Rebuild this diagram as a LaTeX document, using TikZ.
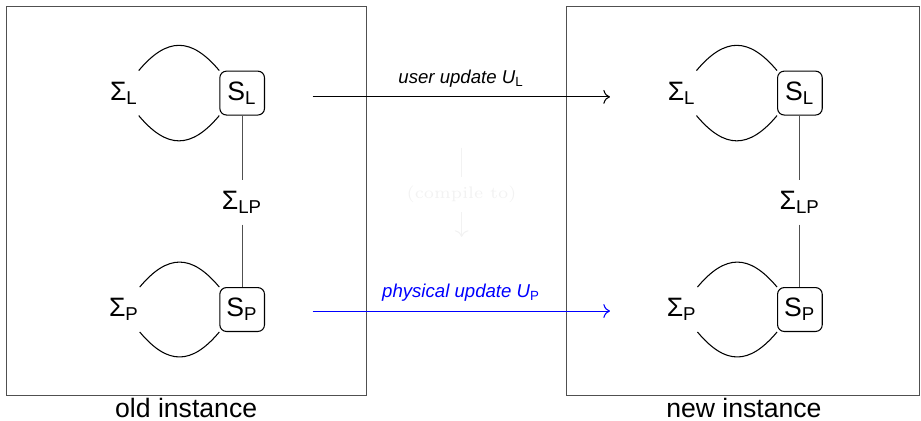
\documentclass[tikz,border=0pt]{standalone}
\usepackage{fontspec}
\setsansfont{Liberation Sans}
\usetikzlibrary{arrows.meta}
\definecolor{cbleu}{RGB}{0,0,255}
\definecolor{cgris}{RGB}{80,80,80}
\definecolor{cpale}{RGB}{242,242,242}

\begin{document}
\begin{tikzpicture}[>=To, font=\sffamily,
  etat/.style={draw, rounded corners=2.5pt, minimum width=0.59cm, minimum height=0.58cm, inner sep=1pt},
  sigma/.style={minimum height=0.58cm, inner xsep=0pt}]
\useasboundingbox (0,0) rectangle (12.17,5.56);
% les deux instances
\draw[cgris] (0.09,0.33) rectangle (4.84,5.47);
\draw[cgris] (7.48,0.33) rectangle (12.15,5.47);
\node[inner sep=1pt] (oldlab) at (2.46,0.165) {old instance};
\node[inner sep=1pt] (newlab) at (9.83,0.165) {new instance};
\foreach \inst/\dx in {old/0,new/7.37}
{
  \node[etat] (sL\inst) at ({3.2+\dx},4.33) {S\textsubscript{L}};
  \node[etat] (sP\inst) at ({3.2+\dx},1.47) {S\textsubscript{P}};
  \node[sigma] (sigL\inst) at ({1.64+\dx},4.33) {Σ\textsubscript{L}};
  \node[sigma] (sigP\inst) at ({1.64+\dx},1.47) {Σ\textsubscript{P}};
  \node[sigma] (sigLP\inst) at ({3.2+\dx},2.89) {Σ\textsubscript{LP}};
  \draw[cgris] (sL\inst) -- (sigLP\inst) -- (sP\inst);
  \draw (sigL\inst.north east) to[out=50,in=130,looseness=1.4] (sL\inst.north west);
  \draw (sigL\inst.south east) to[out=-50,in=-130,looseness=1.4] (sL\inst.south west);
  \draw (sigP\inst.north east) to[out=50,in=130,looseness=1.4] (sP\inst.north west);
  \draw (sigP\inst.south east) to[out=-50,in=-130,looseness=1.4] (sP\inst.south west);
}
% mises a jour
\coordinate (uDep) at (4.13,4.28); \coordinate (uArr) at (8.06,4.28);
\coordinate (pDep) at (4.13,1.45); \coordinate (pArr) at (8.06,1.45);
\draw[->] (uDep) -- node[above,font=\sffamily\scriptsize\itshape] {user\ update\ U\textsubscript{\upshape L}} (uArr);
\draw[->,cbleu] (pDep) -- node[above,font=\sffamily\scriptsize\itshape] {physical\ update\ U\textsubscript{\upshape P}} (pArr);
% compilation (presque invisible)
\coordinate (cHaut) at (6.10,3.61); \coordinate (cBas) at (6.10,2.43);
\node[cpale,font=\rmfamily\fontsize{6.3}{7}\selectfont] (comp) at (6.10,2.99) {(compile to)};
\draw[cpale] (cHaut) -- (comp);
\draw[cpale,->] (comp) -- (cBas);
\end{tikzpicture}
\end{document}
